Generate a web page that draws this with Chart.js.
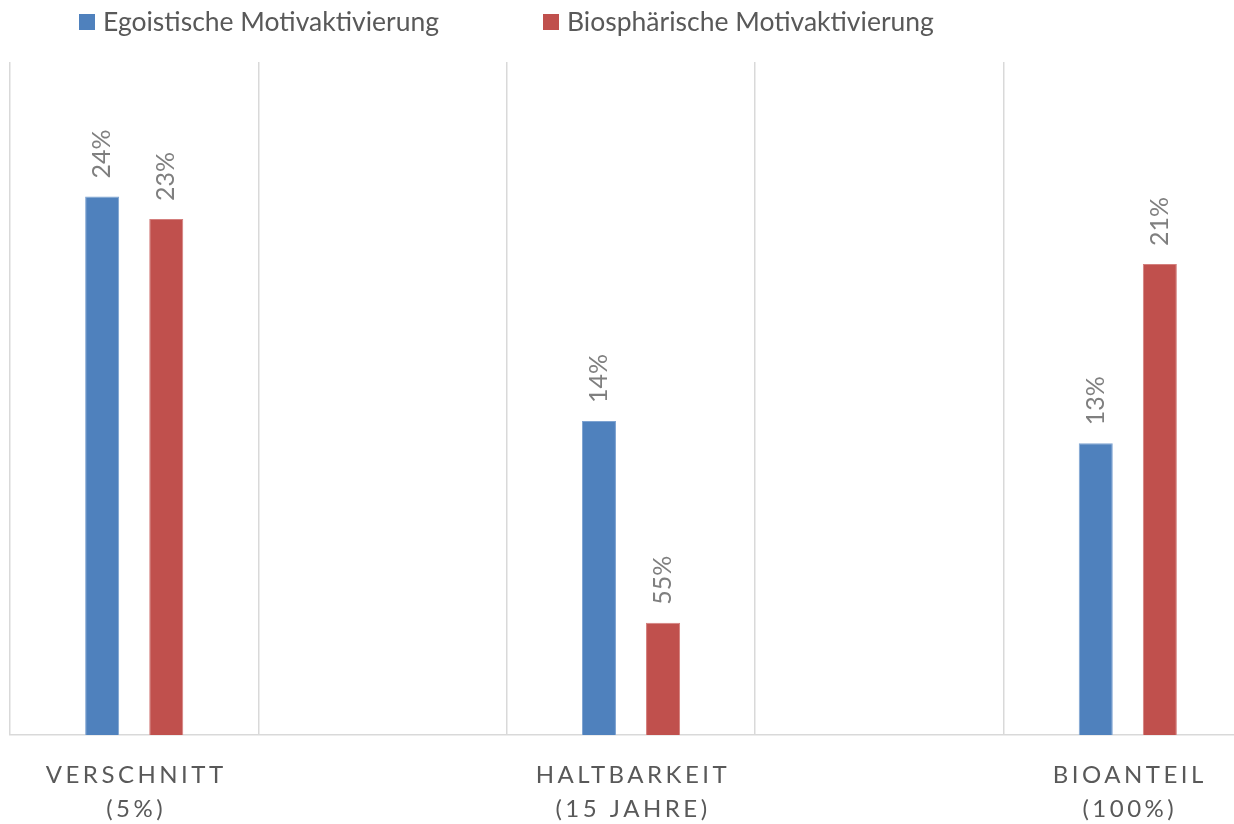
<!DOCTYPE html>
<html>
<head>
<meta charset="utf-8">
<script src="https://cdn.jsdelivr.net/npm/chart.js@4.4.1/dist/chart.umd.min.js"></script>
<style>
  html, body { margin: 0; padding: 0; background: #fff; overflow: hidden; }
  #wrap { position: relative; width: 1262px; height: 824px; }
</style>
</head>
<body>
<div id="wrap"><canvas id="motivChart"></canvas></div>
<script>
// categories (2nd and 4th are empty slots, as in the original layout)
const categories = [
  ['VERSCHNITT', '(5%)'],
  ['', ''],
  ['HALTBARKEIT', '(15 JAHRE)'],
  ['', ''],
  ['BIOANTEIL', '(100%)']
];
const egoValues = [24, null, 14, null, 13];
const bioValues = [23, null, 5, null, 21];
// data labels as printed in the picture
const egoLabels = ['24%', '', '14%', '', '13%'];
const bioLabels = ['23%', '', '55%', '', '21%'];
const seriesNames = ['Egoistische Motivaktivierung', 'Biosphärische Motivaktivierung'];

const FONT = 'Lato, "Open Sans", sans-serif';

// draw rotated value labels above bars
const valueLabels = {
  id: 'valueLabels',
  afterDatasetsDraw(chart) {
    const ctx = chart.ctx;
    const lists = [egoLabels, bioLabels];
    ctx.save();
    ctx.fillStyle = '#7f7f7f';
    ctx.font = '25px ' + FONT;
    ctx.textAlign = 'left';
    ctx.textBaseline = 'middle';
    chart.data.datasets.forEach((ds, di) => {
      chart.getDatasetMeta(di).data.forEach((bar, i) => {
        if (ds.data[i] == null) return;
        ctx.save();
        ctx.translate(bar.x, bar.y - 18);
        ctx.rotate(-Math.PI / 2);
        ctx.fillText(lists[di][i], 0, 0);
        ctx.restore();
      });
    });
    ctx.restore();
  }
};

// letter-spaced category labels under the axis
const catLabels = {
  id: 'catLabels',
  afterDraw(chart) {
    const ctx = chart.ctx;
    const x = chart.scales.x;
    ctx.save();
    ctx.fillStyle = '#595959';
    ctx.font = '24px ' + FONT;
    ctx.letterSpacing = '3.5px';
    ctx.textAlign = 'center';
    ctx.textBaseline = 'middle';
    categories.forEach((lines, i) => {
      const cx = x.getPixelForValue(i) + 2;
      lines.forEach((t, li) => {
        if (t) ctx.fillText(t, cx, chart.chartArea.bottom + 40 + li * 34);
      });
    });
    ctx.restore();
  }
};

// legend drawn at the top
const topLegend = {
  id: 'topLegend',
  afterDraw(chart) {
    const ctx = chart.ctx;
    const starts = [79, 543];
    ctx.save();
    ctx.font = '26.5px ' + FONT;
    ctx.textBaseline = 'middle';
    ctx.textAlign = 'left';
    chart.data.datasets.forEach((ds, i) => {
      ctx.fillStyle = ds.backgroundColor;
      ctx.fillRect(starts[i], 14, 16, 16);
      ctx.fillStyle = '#595959';
      ctx.fillText(ds.label, starts[i] + 24, 22);
    });
    ctx.restore();
  }
};

new Chart(document.getElementById('motivChart'), {
  type: 'bar',
  data: {
    labels: categories,
    datasets: [
      {
        label: seriesNames[0],
        data: egoValues,
        backgroundColor: '#4f81bd',
        borderColor: '#7ea3d1',
        borderWidth: 1,
        categoryPercentage: 0.516,
        barPercentage: 0.531
      },
      {
        label: seriesNames[1],
        data: bioValues,
        backgroundColor: '#c0504d',
        borderColor: '#d47f7d',
        borderWidth: 1,
        categoryPercentage: 0.516,
        barPercentage: 0.531
      }
    ]
  },
  options: {
    responsive: true,
    maintainAspectRatio: false,
    animation: false,
    layout: { padding: { left: 10, right: 10, top: 62, bottom: 89 } },
    plugins: { legend: { display: false }, tooltip: { enabled: false } },
    scales: {
      x: {
        grid: { color: '#d9d9d9', lineWidth: 1.5, offset: true, drawTicks: false },
        border: { color: '#d9d9d9', width: 1.5 },
        ticks: { display: false }
      },
      y: {
        display: false,
        min: 0,
        max: 30
      }
    }
  },
  plugins: [valueLabels, catLabels, topLegend]
});
</script>
</body>
</html>
